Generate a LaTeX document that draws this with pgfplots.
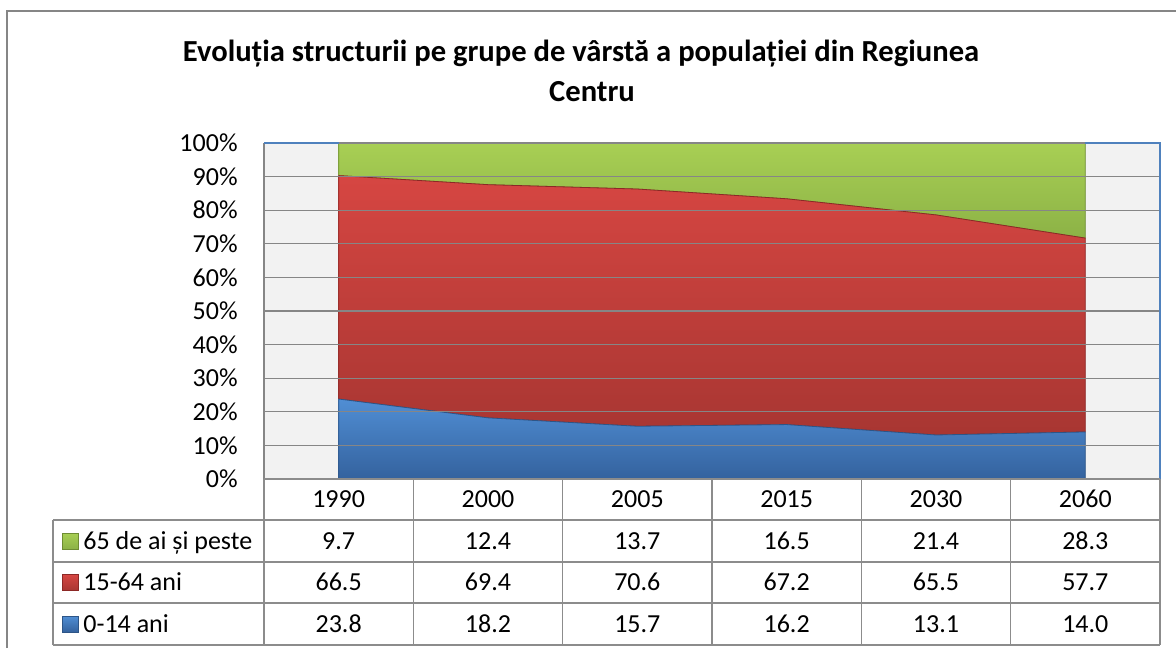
\documentclass[border=0pt]{standalone}
\usepackage{fontspec}
\setmainfont{Carlito}
\usepackage{pgfplots}
\pgfplotsset{compat=1.18}
\definecolor{gridc}{RGB}{134,134,134}
\definecolor{tabc}{RGB}{140,140,140}
\definecolor{framec}{RGB}{79,129,189}
\definecolor{bgc}{RGB}{242,242,242}
\definecolor{blueT}{RGB}{80,142,212}
\definecolor{blueB}{RGB}{52,98,158}
\definecolor{blueD}{RGB}{45,85,135}
\definecolor{redT}{RGB}{214,70,66}
\definecolor{redB}{RGB}{168,54,50}
\definecolor{redD}{RGB}{140,40,38}
\definecolor{greenT}{RGB}{168,207,84}
\definecolor{greenB}{RGB}{140,178,70}
\definecolor{greenD}{RGB}{110,140,50}
\begin{document}
\begin{tikzpicture}[x=0.5pt,y=0.5pt]
\useasboundingbox (0,0) rectangle (1176,648);
\draw[gridc, line width=0.6pt] (7,0) -- (7,637) -- (1176,637);
\node[font=\bfseries\fontsize{15.3}{18}\selectfont, anchor=base, inner sep=0pt] at (581,586) {Evoluția structurii pe grupe de vârstă a populației din Regiunea};
\node[font=\bfseries\fontsize{15.3}{18}\selectfont, anchor=base, inner sep=0pt] at (592,546) {Centru};
\begin{axis}[
  at={(132pt,84.5pt)}, anchor=south west,
  scale only axis, width=448pt, height=168pt,
  xmin=-0.5, xmax=5.5, ymin=0, ymax=100,
  stack plots=y, area style,
  axis background/.style={fill=bgc},
  axis line style={draw=none},
  major tick length=0pt,
  ytick={0,10,...,100},
  yticklabels={0\%,10\%,20\%,30\%,40\%,50\%,60\%,70\%,80\%,90\%,100\%},
  yticklabel style={anchor=east, inner sep=0pt, xshift=-13pt, font=\fontsize{13}{15}\selectfont},
  xtick={0,1,2,3,4,5},
  xticklabels={1990,2000,2005,2015,2030,2060},
  xticklabel style={anchor=base, yshift=-14.35pt, font=\fontsize{13}{15}\selectfont},
  ymajorgrids, grid style={gridc, line width=0.6pt},
  /pgf/number format/assume math mode=true,
  clip=false,
]
\addplot[draw=blueD, line width=0.4pt, top color=blueT, bottom color=blueB]
  coordinates {(0,23.8) (1,18.2) (2,15.7) (3,16.2) (4,13.1) (5,14.0)} \closedcycle;
\addplot[draw=redD, line width=0.4pt, top color=redT, bottom color=redB]
  coordinates {(0,66.5) (1,69.4) (2,70.6) (3,67.2) (4,65.5) (5,57.7)} \closedcycle;
\addplot[draw=greenD, line width=0.4pt, top color=greenT, bottom color=greenB]
  coordinates {(0,9.7) (1,12.4) (2,13.7) (3,16.5) (4,21.4) (5,28.3)} \closedcycle;
\end{axis}
% plot area frame
\draw[gridc, line width=0.6pt] (264,169) -- (264,505);
\draw[framec, line width=0.7pt] (264,505) -- (338.7,505);
\draw[framec, line width=0.7pt] (1085.3,505) -- (1160,505) -- (1160,169);
% data table lines
\draw[tabc, line width=0.7pt] (264,169) -- (1160,169);
\foreach \yy in {128,86,45,3} \draw[tabc, line width=0.7pt] (53,\yy) -- (1160,\yy);
\draw[tabc, line width=0.7pt] (53,3) -- (53,128);
\foreach \xx in {264,413.33,562.67,712,861.33,1010.67,1160} \draw[tabc, line width=0.7pt] (\xx,3) -- (\xx,169);
% legend keys
\shade[top color=greenT, bottom color=greenB, draw=greenD, line width=0.3pt] (62,99) rectangle (78,115);
\shade[top color=redT, bottom color=redB, draw=redD, line width=0.3pt] (62,57.5) rectangle (78,73.5);
\shade[top color=blueT, bottom color=blueB, draw=blueD, line width=0.3pt] (62,16) rectangle (78,32);
\begin{scope}[every node/.style={font=\fontsize{13}{15}\selectfont, inner sep=0pt}]
\node[anchor=base west] at (83,98.8) {65 de ai și peste};
\node[anchor=base west] at (83,57.3) {15-64 ani};
\node[anchor=base west] at (83,15.8) {0-14 ani};
\foreach \v [count=\i from 0] in {9.7,12.4,13.7,16.5,21.4,28.3}
  \node[anchor=base] at ({264+149.333*(\i+0.5)},98.8) {\v};
\foreach \v [count=\i from 0] in {66.5,69.4,70.6,67.2,65.5,57.7}
  \node[anchor=base] at ({264+149.333*(\i+0.5)},57.3) {\v};
\foreach \v [count=\i from 0] in {23.8,18.2,15.7,16.2,13.1,14.0}
  \node[anchor=base] at ({264+149.333*(\i+0.5)},15.8) {\v};
\end{scope}
\end{tikzpicture}
\end{document}
